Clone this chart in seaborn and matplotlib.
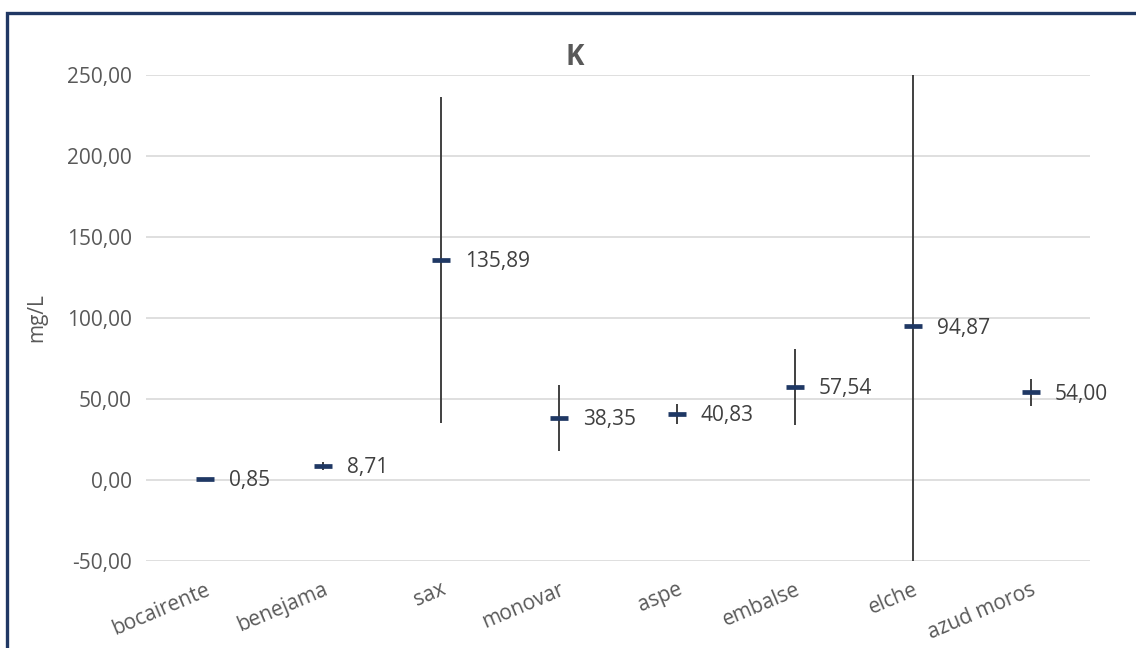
import matplotlib

matplotlib.use("Agg")

import matplotlib.pyplot as plt  # noqa: E402
import pandas as pd  # noqa: E402
import seaborn as sns  # noqa: E402
from matplotlib.patches import Rectangle  # noqa: E402

sites = ["bocairente", "benejama", "sax", "monovar", "aspe", "embalse", "elche", "azud moros"]
means = [0.85, 8.71, 135.89, 38.35, 40.83, 57.54, 94.87, 54.00]
errors = [0.3, 2.5, 100.6, 20.5, 6.2, 23.5, 160.0, 8.5]
labels = ["0,85", "8,71", "135,89", "38,35", "40,83", "57,54", "94,87", "54,00"]
yticks = [-50, 0, 50, 100, 150, 200, 250]

sns.set_theme(style="white")
plt.rcParams["font.family"] = ["Open Sans", "DejaVu Sans"]

df = pd.DataFrame({"site": sites, "mean": means, "err": errors})
pos = list(range(len(sites)))

fig = plt.figure(figsize=(11.36, 6.48), dpi=100)
ax = fig.add_axes([0.1285, 0.1343, 0.831, 0.75])

ax.errorbar(pos, df["mean"], yerr=df["err"], fmt="none", ecolor="#404040",
            elinewidth=1.4, capsize=0, zorder=2)
sns.scatterplot(x=pos, y=df["mean"], marker="_", s=160, linewidth=3.4,
                color="#1F3864", ax=ax, zorder=3)

for x, y, t in zip(pos, means, labels):
    ax.annotate(t, (x, y), xytext=(17, -1.5), textcoords="offset points",
                ha="left", va="center", fontsize=15, color="#404040")

ax.set_xlim(-0.5, len(sites) - 0.5)
ax.set_ylim(-50, 250)
ax.set_yticks(yticks)
ax.set_yticklabels([f"{v:.2f}".replace(".", ",") for v in yticks],
                   fontsize=15, color="#595959")
ax.set_xticks(pos)
ax.set_xticklabels(sites, rotation=23, ha="right", rotation_mode="anchor",
                   fontsize=15, color="#595959")
ax.tick_params(axis="both", length=0, pad=10)
ax.tick_params(axis="x", pad=13)
ax.grid(axis="y", color="#D9D9D9", linewidth=1.2)
ax.set_axisbelow(True)
for s in ax.spines.values():
    s.set_visible(False)

ax.set_ylabel("mg/L", fontsize=15, color="#595959", labelpad=14)
ax.set_xlabel("")
fig.text(0.506, 0.911, "K", ha="center", va="center", fontsize=20,
         fontweight="bold", color="#595959")

fig.patches.append(Rectangle((0.0062, -0.1), 1.2, 1.08, transform=fig.transFigure,
                             fill=False, edgecolor="#203864", linewidth=2.4))

fig.savefig("out.png", dpi=100)
